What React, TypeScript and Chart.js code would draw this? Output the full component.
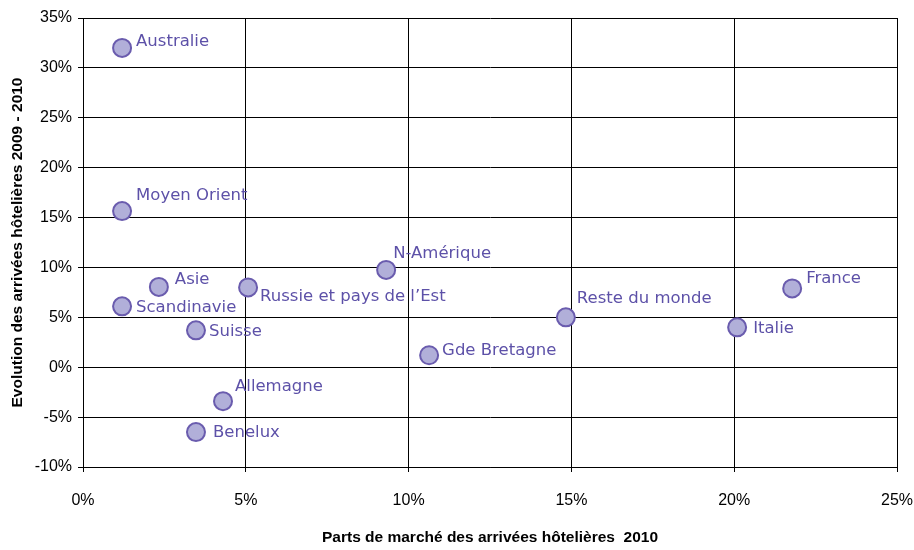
import React, { useEffect, useRef } from "react";
import { Chart, registerables } from "chart.js";

Chart.register(...registerables);

const countries = [
  "Australie", "Moyen Orient", "Asie", "Scandinavie", "Russie et pays de l’Est",
  "Suisse", "Allemagne", "Benelux", "N-Amérique", "Gde Bretagne",
  "Reste du monde", "Italie", "France",
];
const marketShare2010 = [1.2, 1.2, 2.33, 1.2, 5.07, 3.47, 4.3, 3.47, 9.31, 10.63, 14.83, 20.09, 21.78];
const growth2009_2010 = [32.0, 15.65, 8.05, 6.1, 8.0, 3.7, -3.4, -6.5, 9.75, 1.2, 5.0, 4.0, 7.9];
const xTicks = [0, 5, 10, 15, 20, 25];
const yTicks = [-10, -5, 0, 5, 10, 15, 20, 25, 30, 35];

// label placement relative to each point (pixels)
const labelDx = [14, 14, 16, 14, 12, 13, 12, 17, 7, 13, 11, 16, 14];
const labelDy = [-6, -15, -7, 1, 9, 1, -14, 1, -16, -5, -19, 1, -10];

const LABEL_COLOR = "#5d51a8";

const labelPlugin = {
  id: "pointLabels",
  afterDatasetsDraw(chart: any) {
    const meta = chart.getDatasetMeta(0);
    const ctx = chart.ctx;
    ctx.save();
    ctx.font = "16.5px 'DejaVu Sans'";
    ctx.fillStyle = LABEL_COLOR;
    ctx.textAlign = "left";
    ctx.textBaseline = "middle";
    meta.data.forEach((pt: any, i: number) => {
      ctx.fillText(countries[i], pt.x + labelDx[i], pt.y + labelDy[i]);
    });
    ctx.restore();
  },
};

export default function App() {
  const ref = useRef<HTMLCanvasElement>(null);
  useEffect(() => {
    if (!ref.current) return;
    const chart = new Chart(ref.current, {
      type: "scatter",
      data: {
        datasets: [
          {
            data: countries.map((_, i) => ({ x: marketShare2010[i], y: growth2009_2010[i] })),
            backgroundColor: "#b1afd9",
            borderColor: "#6a5cae",
            borderWidth: 2,
            pointRadius: 9,
            pointHoverRadius: 9,
          },
        ],
      },
      options: {
        animation: false,
        responsive: false,
        events: [],
        layout: { padding: { top: 18, right: 17, left: 0, bottom: 0 } },
        plugins: { legend: { display: false }, tooltip: { enabled: false } },
        scales: {
          x: {
            type: "linear",
            min: 0,
            max: 25,
            afterBuildTicks: (s: any) => { s.ticks = xTicks.map((v) => ({ value: v })); },
            afterFit: (s: any) => { s.height = 83; s.paddingLeft = 0; s.paddingRight = 0; },
            ticks: {
              callback: (v: any) => v + "%",
              color: "#000",
              font: { family: "'Liberation Sans', Arial", size: 16 },
              padding: 19,
              maxRotation: 0,
            },
            grid: { color: "#000", lineWidth: 1, tickLength: 5 },
            border: { color: "#000" },
            title: {
              display: true,
              text: "Parts de marché des arrivées hôtelières  2010",
              color: "#000",
              font: { family: "'Liberation Sans', Arial", size: 15.5, weight: "bold" },
              padding: { top: 0, bottom: 3 },
            },
          },
          y: {
            type: "linear",
            min: -10,
            max: 35,
            afterBuildTicks: (s: any) => { s.ticks = yTicks.map((v) => ({ value: v })); },
            afterFit: (s: any) => { s.width = 83; s.paddingTop = 0; s.paddingBottom = 0; },
            ticks: {
              callback: (v: any) => v + "%",
              color: "#000",
              font: { family: "'Liberation Sans', Arial", size: 16 },
              padding: 6,
            },
            grid: { color: "#000", lineWidth: 1, tickLength: 5 },
            border: { color: "#000" },
            title: {
              display: true,
              text: "Evolution des arrivées hôtelières 2009 - 2010",
              color: "#000",
              font: { family: "'Liberation Sans', Arial", size: 15.5, weight: "bold" },
              padding: { top: 8, bottom: 0 },
            },
          },
        },
      },
      plugins: [labelPlugin],
    });
    return () => chart.destroy();
  }, []);
  return (
    <div style={{ position: "absolute", left: 0, top: 0, width: 914, height: 550, background: "#fff" }}>
      <canvas ref={ref} width={914} height={550} />
    </div>
  );
}
